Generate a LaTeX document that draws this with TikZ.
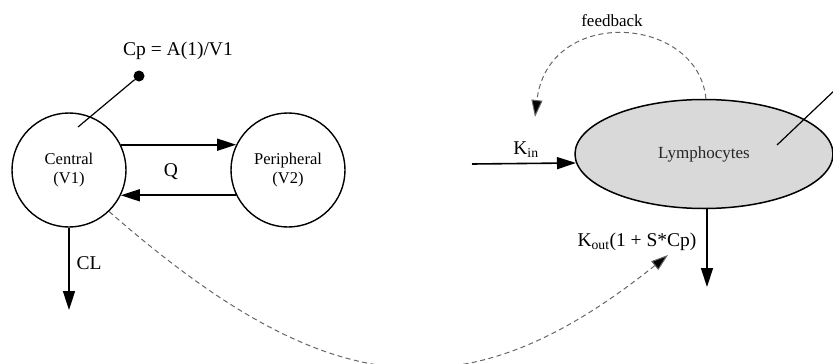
\documentclass[tikz,border=0pt]{standalone}
\usepackage{fontspec}
\setmainfont{Liberation Serif}
\usetikzlibrary{arrows.meta,shapes.geometric}
\tikzset{
  comp/.style={circle,draw,line width=1.4pt,minimum size=114pt,inner sep=0pt,align=center,font=\fontsize{16.5}{19}\selectfont},
  lymph/.style={ellipse,draw,line width=1.5pt,fill=black!15,minimum width=258pt,minimum height=109pt,inner sep=0pt,font=\fontsize{17}{20}\selectfont,text=black!85},
  flow/.style={line width=1.6pt,-{Triangle[length=19pt,width=12pt]}},
  effect/.style={draw=black!60,line width=1pt,dash pattern=on 5pt off 3.5pt,-{Triangle[length=17pt,width=11pt,fill=black]}},
  lbl/.style={font=\fontsize{19.5}{22}\selectfont,inner sep=0pt},
}
\begin{document}
\begin{tikzpicture}[x=1pt,y=-1pt]
\useasboundingbox (0,0) rectangle (833,364);
% compartments
\node[comp] (C) at (69,170) {Central\\(V1)};
\node[comp] (P) at (288,170) {Peripheral\\(V2)};
\node[lymph] (L) at (704,154) {Lymphocytes};
% Q arrows
\draw[flow] (C.26) -- (P.154);
\draw[flow] (P.206) -- (C.-26);
\node[lbl] (Q) at (171,172) {Q};
% CL
\coordinate (CLend) at (69,310);
\draw[flow] (C.south) -- (CLend);
\node[lbl] (CL) at (89,263) {CL};
% Cp observation
\node[circle,fill=black,minimum size=11pt,inner sep=0pt] (dot) at (139,76) {};
\coordinate (cpin) at (78,127);
\draw[line width=1.2pt] (cpin) -- (dot);
\node[lbl] (cp) at (178,51) {Cp = A(1)/V1};
% Kin
\coordinate (kinstart) at (472,164);
\draw[flow] (kinstart) -- (L.184.5);
\node[lbl] (kin) at (526,150) {K\textsubscript{in}};
% Kout
\coordinate (koutend) at (707,287);
\draw[flow,line width=1.3pt] (L.south -| koutend) -- (koutend);
\node[lbl] (kout) at (637,242) {K\textsubscript{out}(1 + S*Cp)};
% line out of lymphocytes
\coordinate (lin) at (777,145);
\coordinate (lout) at (836,89);
\draw[line width=1.2pt] (lin) -- (lout);
% feedback
\coordinate (fbend) at (535,117);
\draw[effect] (L.88) .. controls (698,15) and (548,5) .. (fbend);
\node[font=\fontsize{17}{20}\selectfont,inner sep=0pt] (fb) at (612,21) {feedback};
% drug effect
\coordinate (effend) at (668,255);
\draw[effect] (C.-46) .. controls (330,405) and (468,415) .. (effend);
\end{tikzpicture}
\end{document}
